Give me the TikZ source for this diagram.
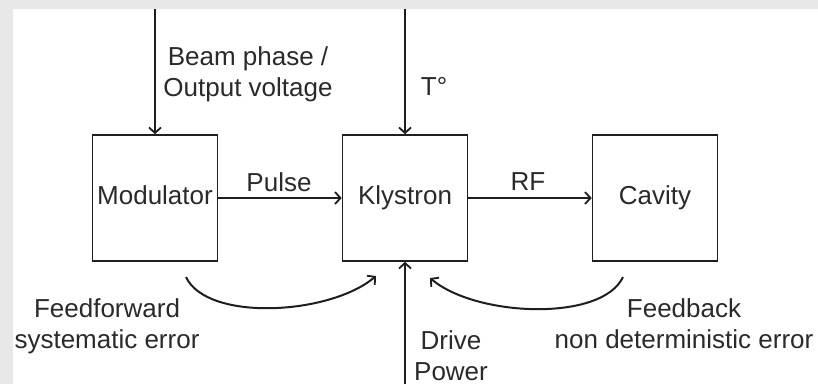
\documentclass[tikz,border=0pt]{standalone}
\usepackage{fontspec}
\setmainfont{Liberation Sans}
\usetikzlibrary{arrows.meta}
\definecolor{bgray}{HTML}{E8E8E8}
\definecolor{ink}{HTML}{1E1E1E}
\definecolor{txt}{HTML}{2A2A2A}
\begin{document}
\begin{tikzpicture}[x=1pt,y=1pt,
  box/.style={draw=ink, line width=1.6pt, minimum width=125pt, minimum height=126pt,
    inner sep=0pt, text height=18.7pt, text depth=5.5pt,
    font=\fontsize{26}{31}\selectfont, text=txt},
  lbl/.style={inner sep=0pt, font=\fontsize{26}{31}\selectfont, text=txt, align=center},
  arr/.style={draw=ink, line width=2pt,
    -{Straight Barb[length=5.5pt,width=12pt,line width=1.8pt]}}]
\fill[bgray] (0,0) rectangle (818,384);
\fill[white] (13,0) rectangle (818,375);
\useasboundingbox (0,0) rectangle (818,384);
% boxes
\node[box] (mod) at (155,186) {Modulator};
\node[box] (kly) at (405,186) {Klystron};
\node[box] (cav) at (655,186) {Cavity};
% free ends
\coordinate (modtop) at (155,375);
\coordinate (klytop) at (405,375);
\coordinate (klybot) at (405,0);
\coordinate (ffs) at (186,107);
\coordinate (ffe) at (376,108);
\coordinate (fbs) at (623,107);
\coordinate (fbe) at (430,106);
% connectors
\draw[arr] (modtop) -- (mod.north);
\draw[arr] (klytop) -- (kly.north);
\draw[arr] (klybot) -- (kly.south);
\draw[arr] (mod.east) -- (kly.west);
\draw[arr] (kly.east) -- (cav.west);
\draw[arr] (ffs) .. controls (207,62) and (330,69) .. (ffe);
\draw[arr] (fbs) .. controls (602,62) and (476,67) .. (fbe);
% labels
\node[lbl, anchor=north] (beam) at (248,337.5) {Beam phase /\\Output voltage};
\node[lbl, anchor=north] (temp) at (434,307) {T°};
\node[lbl, anchor=north] (pulse) at (279,212) {Pulse};
\node[lbl, anchor=north] (rf) at (528,212) {RF};
\node[lbl, anchor=north] (ffl) at (107,86) {Feedforward\\systematic error};
\node[lbl, anchor=north] (fbl) at (684,86) {Feedback\\non deterministic error};
\node[lbl, anchor=north] (drv) at (451,54) {Drive\\Power};
\end{tikzpicture}
\end{document}
